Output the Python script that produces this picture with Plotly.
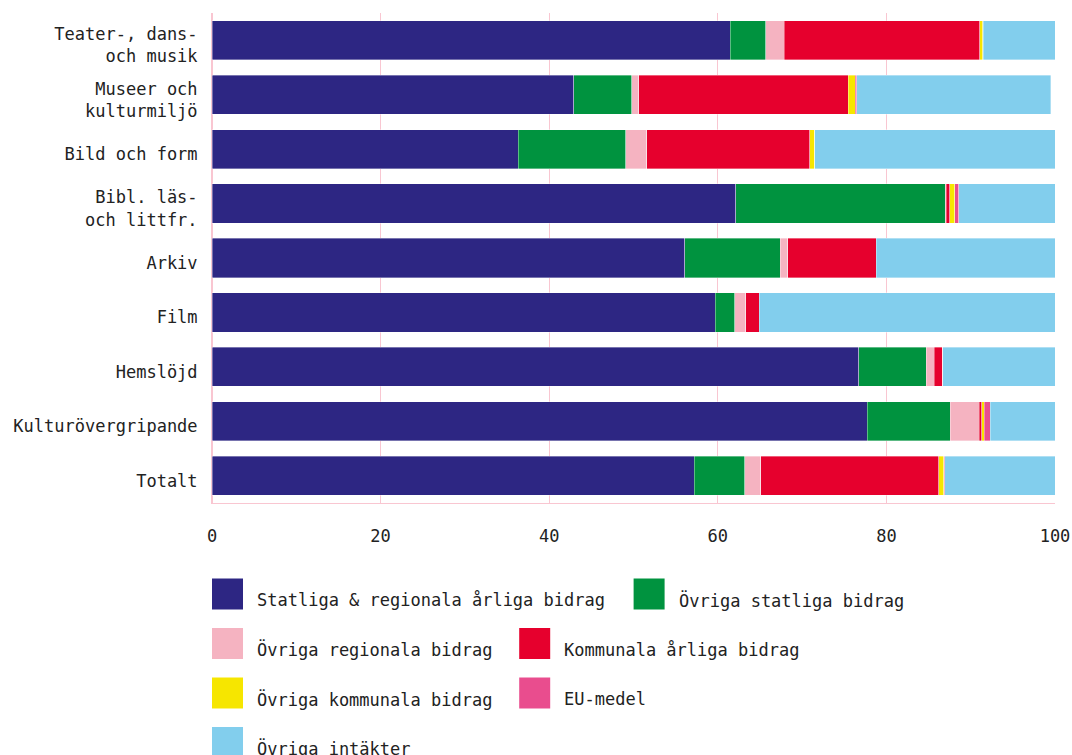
import plotly.graph_objects as go

categories = ["Teater-, dans-<br>och musik", "Museer och<br>kulturmiljö", "Bild och form",
              "Bibl. läs-<br>och littfr.", "Arkiv", "Film", "Hemslöjd",
              "Kulturövergripande", "Totalt"]

series_names = ["Statliga & regionala årliga bidrag", "Övriga statliga bidrag",
                "Övriga regionala bidrag", "Kommunala årliga bidrag",
                "Övriga kommunala bidrag", "EU-medel", "Övriga intäkter"]

statliga_regionala = [61.5, 42.9, 36.3, 62.1, 56.1, 59.7, 76.7, 77.7, 57.2]
ovriga_statliga    = [4.2, 6.9, 12.8, 24.9, 11.3, 2.3, 8.0, 9.9, 6.0]
ovriga_regionala   = [2.2, 0.8, 2.5, 0.1, 0.9, 1.3, 1.0, 3.4, 1.9]
kommunala          = [23.2, 24.9, 19.3, 0.4, 10.5, 1.6, 1.0, 0.3, 21.1]
ovriga_kommunala   = [0.3, 0.8, 0.6, 0.6, 0.0, 0.0, 0.0, 0.3, 0.6]
eu_medel           = [0.1, 0.2, 0.0, 0.5, 0.0, 0.0, 0.0, 0.7, 0.1]
ovriga_intakter    = [8.5, 23.0, 28.5, 11.4, 21.2, 35.1, 13.3, 7.7, 13.1]

x_ticks = [0, 20, 40, 60, 80, 100]

series_values = [statliga_regionala, ovriga_statliga, ovriga_regionala, kommunala,
                 ovriga_kommunala, eu_medel, ovriga_intakter]
colors = ["#2d2683", "#00933f", "#f5b3c1", "#e6002d", "#f6e600", "#e94d8e", "#82ceed"]

FONT = "DejaVu Sans Mono, Liberation Mono, monospace"
TEXT = "#222222"
GRID = "#f9c6d1"
FS = 17

fig = go.Figure()
for name, vals, col in zip(series_names, series_values, colors):
    fig.add_trace(go.Bar(
        y=categories, x=vals, name=name, orientation="h",
        marker=dict(color=col, line=dict(color="rgba(255,255,255,0.45)", width=0.8)),
        showlegend=False,
    ))

# Layout geometry (pixels)
W, H = 1072, 755
ML, MR, MT, MB = 212, 17, 13, 252
PW, PH = W - ML - MR, H - MT - MB


def px_to_paper(px, py):
    return (px - ML) / PW, (H - MB - py) / PH


# Custom legend (large square swatches), flow layout with two entries per row
shapes = []
annotations = []
sq = 31
char_w = 10.4
row_y = [594, 643.5, 693, 742.5]
for i, (name, col) in enumerate(zip(series_names, colors)):
    row, pos = divmod(i, 2)
    if pos == 0:
        cur_x = ML
    yc = row_y[row]
    x0, y0 = px_to_paper(cur_x, yc - sq / 2)
    x1, y1 = px_to_paper(cur_x + sq, yc + sq / 2)
    shapes.append(dict(type="rect", xref="paper", yref="paper", x0=x0, x1=x1, y0=y1, y1=y0,
                       fillcolor=col, line=dict(width=0), layer="above"))
    tx, ty = px_to_paper(cur_x + 43, yc + 6)
    annotations.append(dict(xref="paper", yref="paper", x=tx, y=ty, text=name,
                            showarrow=False, xanchor="left", yanchor="middle",
                            font=dict(family=FONT, size=FS, color=TEXT)))
    cur_x = cur_x + 43 + len(name) * char_w + 25

fig.update_layout(
    barmode="stack",
    bargap=0.28,
    width=W, height=H,
    autosize=False,
    margin=dict(l=ML, r=MR, t=MT, b=MB, pad=0, autoexpand=False),
    paper_bgcolor="white", plot_bgcolor="white",
    font=dict(family=FONT, size=FS, color=TEXT),
    shapes=shapes,
    annotations=annotations,
    xaxis=dict(range=[0, 100], tickvals=x_ticks, showgrid=True, gridcolor=GRID, gridwidth=1,
               zeroline=True, zerolinecolor=GRID, showline=True, linecolor=GRID, linewidth=1,
               automargin=False,
               ticks="", ticklabelstandoff=18, tickfont=dict(size=FS, color=TEXT), fixedrange=True),
    yaxis=dict(autorange="reversed", showgrid=False, showline=True, linecolor=GRID,
               automargin=False, ticklabelshift=-5,
               ticks="", ticklabelstandoff=10, tickfont=dict(size=FS, color=TEXT), fixedrange=True),
)

fig.write_html(
    "out.html",
    config={"responsive": False, "displayModeBar": False},
    post_script="document.documentElement.style.overflow='hidden';"
                "document.body.style.margin='0';document.body.style.overflow='hidden';",
)
